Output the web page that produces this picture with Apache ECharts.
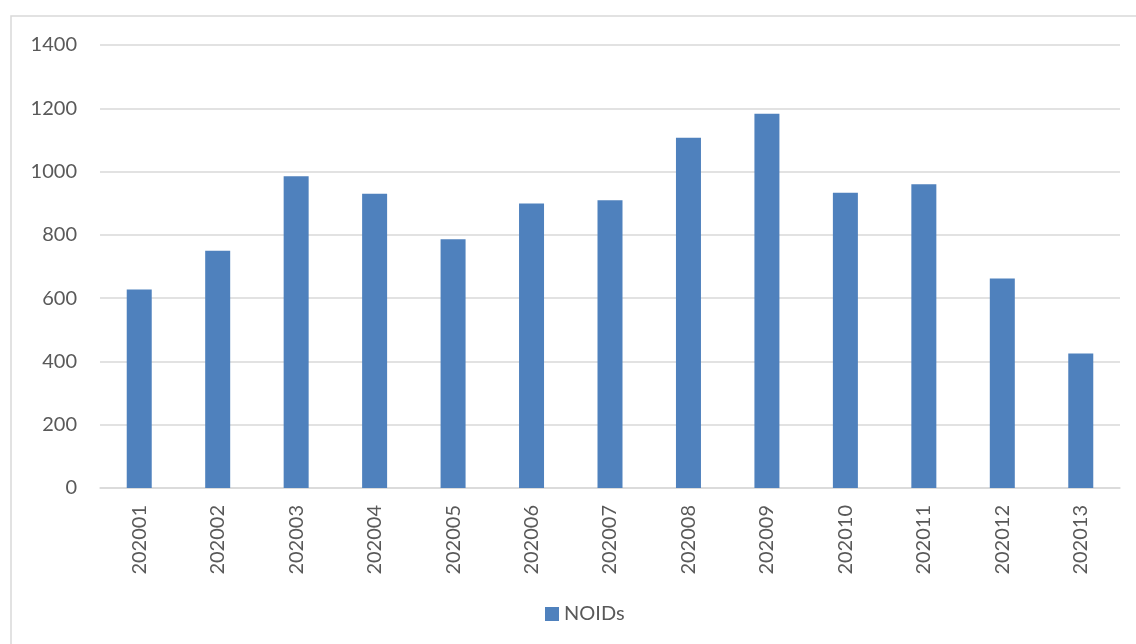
<!DOCTYPE html>
<html>
<head>
<meta charset="utf-8">
<script src="https://cdn.jsdelivr.net/npm/echarts@6/dist/echarts.min.js"></script>
<style>
  html, body { margin: 0; padding: 0; background: #fff; }
  #main { width: 1136px; height: 644px; }
</style>
</head>
<body>
<div id="main"></div>
<script>
let categories = ['202001', '202002', '202003', '202004', '202005', '202006', '202007',
    '202008', '202009', '202010', '202011', '202012', '202013']
let noids = [627, 750, 985, 930, 786, 899, 909, 1107, 1183, 933, 960, 662, 425]
let seriesName = 'NOIDs'

let dom = document.getElementById('main')
let myChart = echarts.init(dom, null, { renderer: 'canvas' })

let textColor = '#595959'
let fontFamily = 'Lato, "Open Sans", sans-serif'

let option = {
    animation: false,
    textStyle: { fontFamily: fontFamily },
    graphic: [
        {
            type: 'rect',
            shape: { x: 11, y: 16, width: 1200, height: 700 },
            style: { fill: 'none', stroke: '#D9D9D9', lineWidth: 1.5 },
            silent: true
        }
    ],
    grid: { left: 100, right: 16, top: 45, bottom: 156, containLabel: false },
    legend: {
        data: [seriesName],
        bottom: 20,
        left: 545,
        padding: 0,
        icon: 'rect',
        itemWidth: 14,
        itemHeight: 14,
        itemGap: 6,
        textStyle: { color: textColor, fontSize: 20, fontFamily: fontFamily }
    },
    xAxis: {
        type: 'category',
        data: categories,
        axisLine: { lineStyle: { color: '#D9D9D9', width: 1.5 } },
        axisTick: { show: false },
        axisLabel: {
            rotate: 90,
            margin: 17,
            color: textColor,
            fontSize: 20,
            fontFamily: fontFamily
        }
    },
    yAxis: {
        type: 'value',
        min: 0,
        max: 1400,
        interval: 200,
        axisLine: { show: false },
        axisTick: { show: false },
        axisLabel: {
            margin: 23,
            color: textColor,
            fontSize: 20,
            fontFamily: fontFamily,
            formatter: function (v) { return String(v) }
        },
        splitLine: { lineStyle: { color: '#D9D9D9', width: 1.5 } }
    },
    series: [
        {
            name: seriesName,
            type: 'bar',
            data: noids,
            barWidth: 25,
            itemStyle: { color: '#4F81BD' }
        }
    ]
}

myChart.setOption(option)
window.addEventListener('resize', myChart.resize)
</script>
</body>
</html>
